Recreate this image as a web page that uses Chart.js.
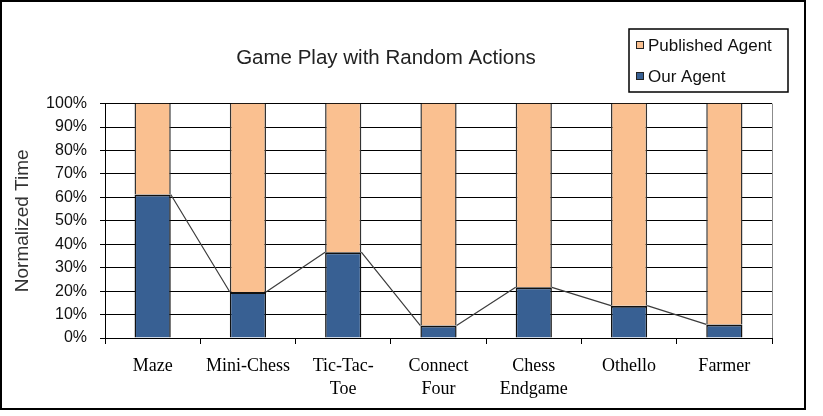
<!DOCTYPE html>
<html>
<head>
<meta charset="utf-8">
<title>Game Play with Random Actions</title>
<script src="https://cdn.jsdelivr.net/npm/chart.js@4"></script>
<style>
  body { margin: 0; background: #fff; }
  #wrap { position: relative; width: 823px; height: 416px; }
  #frame {
    position: absolute; left: 0; top: 0; width: 806px; height: 410px;
    border: 2px solid #000; box-sizing: border-box;
  }
  #gameChart { position: absolute; left: 0; top: 0; }
</style>
</head>
<body>
<div id="wrap">
  <div id="frame"></div>
  <canvas id="gameChart" width="823" height="416"></canvas>
</div>
<script>
const categories = [
  'Maze',
  'Mini-Chess',
  ['Tic-Tac-', 'Toe'],
  ['Connect', 'Four'],
  ['Chess', 'Endgame'],
  'Othello',
  'Farmer'
];
const ourAgent = [61.2, 19.6, 36.6, 5.3, 21.6, 13.8, 5.8];
const publishedAgent = [38.8, 80.4, 63.4, 94.7, 78.4, 86.2, 94.2];
const seriesLabels = ['Our Agent', 'Published Agent'];
const yTicks = [0, 10, 20, 30, 40, 50, 60, 70, 80, 90, 100];

const BLUE = '#386093';
const ORANGE = '#FAC090';

// excel style series lines between the tops of the bottom segments
const seriesLines = {
  id: 'seriesLines',
  beforeDatasetsDraw(chart) {
    const {ctx, chartArea} = chart;
    ctx.save();
    ctx.strokeStyle = '#8c8c8c';
    ctx.lineWidth = 1;
    ctx.beginPath();
    ctx.moveTo(chartArea.right + 0.5, chartArea.top);
    ctx.lineTo(chartArea.right + 0.5, chartArea.bottom);
    ctx.stroke();
    ctx.restore();
  },
  afterDatasetsDraw(chart) {
    const {ctx} = chart;
    const bars = chart.getDatasetMeta(0).data;
    ctx.save();
    ctx.strokeStyle = '#3c3c3c';
    ctx.lineWidth = 1.2;
    ctx.beginPath();
    for (let i = 0; i < bars.length - 1; i++) {
      const a = bars[i];
      const b = bars[i + 1];
      ctx.moveTo(a.x + a.width / 2, a.y);
      ctx.lineTo(b.x - b.width / 2, b.y);
    }
    ctx.stroke();
    ctx.restore();
  }
};

// boxed legend in the top right corner
const boxLegend = {
  id: 'boxLegend',
  afterDraw(chart) {
    const {ctx} = chart;
    const left = 629, top = 29, w = 159, h = 63;
    ctx.save();
    ctx.strokeStyle = '#000';
    ctx.lineWidth = 1.5;
    ctx.strokeRect(left, top, w, h);
    const items = [chart.data.datasets[1], chart.data.datasets[0]];
    ctx.font = '17px "Liberation Sans", Arial, sans-serif';
    ctx.textBaseline = 'middle';
    items.forEach((ds, i) => {
      const y = top + 16 + i * 31;
      ctx.fillStyle = ds.backgroundColor;
      ctx.fillRect(left + 7, y - 4, 8, 8);
      ctx.strokeStyle = '#222';
      ctx.lineWidth = 1;
      ctx.strokeRect(left + 7.5, y - 3.5, 7, 7);
      ctx.fillStyle = '#111';
      ctx.fillText(ds.label, left + 19, y + 1);
    });
    ctx.restore();
  }
};

window.addEventListener('load', () => {
  const $canvas = document.querySelector('#gameChart');

  new Chart($canvas, {
    type: 'bar',
    data: {
      labels: categories,
      datasets: [{
        label: seriesLabels[0],
        data: ourAgent,
        backgroundColor: BLUE,
        borderColor: '#111',
        borderWidth: {top: 2, left: 1.5, right: 1.5, bottom: 0},
        borderSkipped: false
      }, {
        label: seriesLabels[1],
        data: publishedAgent,
        backgroundColor: ORANGE,
        borderColor: '#333',
        borderWidth: {top: 0, left: 1.5, right: 1.5, bottom: 0},
        borderSkipped: false
      }]
    },
    options: {
      responsive: false,
      animation: false,
      barPercentage: 0.38,
      categoryPercentage: 1,
      layout: {padding: {left: 0, right: 51, top: 0, bottom: 0}},
      plugins: {
        legend: {display: false},
        tooltip: {enabled: false},
        title: {
          display: true,
          text: 'Game Play with Random Actions',
          color: '#222',
          font: {family: '"Liberation Sans", Arial, sans-serif', size: 20.5, weight: 'normal'},
          padding: {top: 46, bottom: 33}
        }
      },
      scales: {
        x: {
          stacked: true,
          grid: {
            offset: true,
            drawOnChartArea: false,
            drawTicks: true,
            tickLength: 6,
            color: '#000'
          },
          border: {color: '#000', width: 1},
          ticks: {
            color: '#000',
            padding: 11,
            maxRotation: 0,
            autoSkip: false,
            font: {family: '"Liberation Serif", "Times New Roman", serif', size: 18, lineHeight: 1.28}
          },
          afterFit(scale) { scale.height = 78; }
        },
        y: {
          stacked: true,
          min: 0,
          max: 100,
          afterBuildTicks(scale) {
            scale.ticks = yTicks.map(v => ({value: v}));
          },
          grid: {color: '#000', tickLength: 5},
          border: {color: '#000', width: 1},
          ticks: {
            color: '#111',
            padding: 13,
            font: {family: '"Liberation Sans", Arial, sans-serif', size: 16},
            callback: v => v + '%'
          },
          title: {
            display: true,
            text: 'Normalized Time',
            color: '#333',
            padding: {top: 11, bottom: 0},
            font: {family: '"Liberation Sans", Arial, sans-serif', size: 19}
          },
          afterFit(scale) { scale.width = 105; }
        }
      }
    },
    plugins: [seriesLines, boxLegend]
  });
});
</script>
</body>
</html>
